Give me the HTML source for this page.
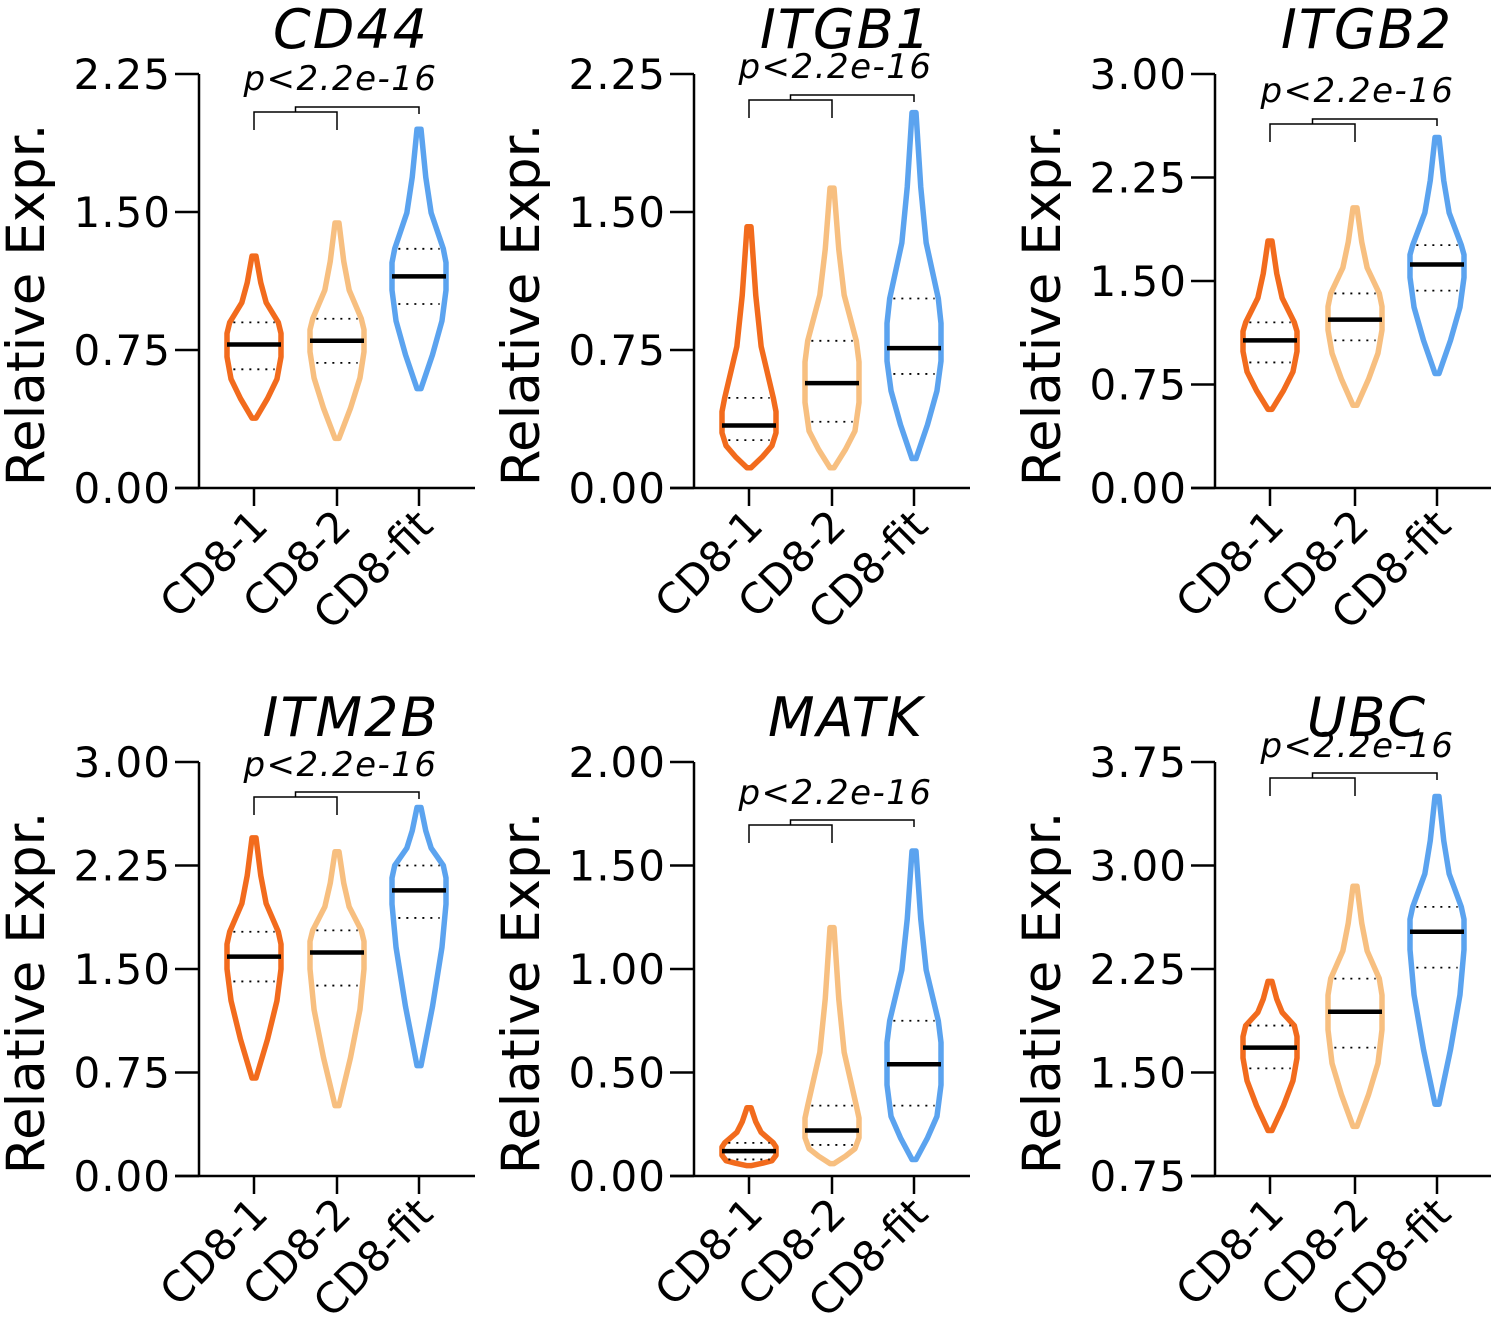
<!DOCTYPE html>
<html><head><meta charset="utf-8"><style>
html,body{margin:0;padding:0;background:#fff;}
svg{display:block;font-family:"DejaVu Sans","Liberation Sans",sans-serif;}
</style></head><body>
<svg id="chart" width="1502" height="1335" viewBox="0 0 1502 1335" xmlns="http://www.w3.org/2000/svg"></svg>
<script>
const genes = ["CD44","ITGB1","ITGB2","ITM2B","MATK","UBC"];
const categories = ["CD8-1","CD8-2","CD8-fit"];
const yMins = [0,0,0,0,0,0.75];
const yMaxs = [2.25,2.25,3.0,3.0,2.0,3.75];
const tickLabels = [
 ["0.00","0.75","1.50","2.25"],["0.00","0.75","1.50","2.25"],["0.00","0.75","1.50","2.25","3.00"],
 ["0.00","0.75","1.50","2.25","3.00"],["0.00","0.50","1.00","1.50","2.00"],["0.75","1.50","2.25","3.00","3.75"]];
// per gene, per category
const mins = [[0.38,0.27,0.54],[0.11,0.11,0.16],[0.57,0.60,0.83],[0.71,0.51,0.80],[0.05,0.06,0.08],[1.08,1.11,1.27]];
const maxs = [[1.26,1.44,1.95],[1.42,1.63,2.04],[1.79,2.03,2.54],[2.45,2.35,2.67],[0.33,1.20,1.57],[2.16,2.85,3.50]];
const medians = [[0.78,0.80,1.15],[0.34,0.57,0.76],[1.07,1.22,1.62],[1.59,1.62,2.07],[0.12,0.22,0.54],[1.68,1.94,2.52]];
const q1s = [[0.645,0.68,1.0],[0.26,0.36,0.62],[0.91,1.07,1.43],[1.41,1.38,1.87],[0.08,0.15,0.34],[1.53,1.68,2.26]];
const q3s = [[0.90,0.92,1.30],[0.49,0.80,1.03],[1.20,1.41,1.76],[1.77,1.78,2.25],[0.16,0.34,0.75],[1.84,2.18,2.70]];
const pLabel = "p<2.2e-16";

const colors = ["#f26b1d","#f7bf80","#5ba3ef"];
const axisX = [199,694,1215,199,694,1215];
const catX = [[254,337,419],[749,832,914],[1270,1355,1437],[254,337,419],[749,832,914],[1270,1355,1437]];
const topY = [74,74,74,762,762,762];
const botY = [488,488,488,1176,1176,1176];
const pY = [90,78,102,776,804,757];
const brY = [112,100,124,797,825,778];
const NS="http://www.w3.org/2000/svg";
const svg=document.getElementById('chart');
function mk(tag,attrs,parent){const e=document.createElementNS(NS,tag);for(const k in attrs)e.setAttribute(k,attrs[k]);(parent||svg).appendChild(e);return e;}

genes.forEach((g,gi)=>{
  const grp=mk('g',{});
  
  
  const y=v=>botY[gi]-(v-yMins[gi])/(yMaxs[gi]-yMins[gi])*(botY[gi]-topY[gi]);
  const ax=axisX[gi], xEnd=ax+276;
  const t=mk('text',{x:ax+152,y:topY[gi]-26,'font-size':54,'font-style':'italic','text-anchor':'middle',fill:'#000','letter-spacing':2},grp);
  t.textContent=g;
  
  
  const yl=mk('text',{x:0,y:0,'font-size':53,'text-anchor':'middle',fill:'#000',transform:`translate(${ax-155},${(topY[gi]+botY[gi])/2+24}) rotate(-90)`},grp);
  yl.textContent="Relative Expr.";
  
  
  const ya=mk('line',{x1:ax,y1:topY[gi],x2:ax,y2:botY[gi],stroke:'#000','stroke-width':2.5},grp);
  
  
  const xa=mk('line',{x1:ax-24,y1:botY[gi],x2:xEnd,y2:botY[gi],stroke:'#000','stroke-width':2.5},grp);
  
  
  tickLabels[gi].forEach(tl=>{
    const v=parseFloat(tl), yy=y(v);
    mk('line',{x1:ax-24,y1:yy,x2:ax,y2:yy,stroke:'#000','stroke-width':2.5},grp);
    const tt=mk('text',{x:ax-28,y:yy+15,'font-size':42,'text-anchor':'end',fill:'#000','letter-spacing':1},grp);
    tt.textContent=tl;
    
    
  });
  categories.forEach((c,ci)=>{
    const cx=catX[gi][ci];
    mk('line',{x1:cx,y1:botY[gi],x2:cx,y2:botY[gi]+18,stroke:'#000','stroke-width':2.5},grp);
    const xt=mk('text',{x:0,y:0,'font-size':42,'text-anchor':'end',fill:'#000',transform:`translate(${cx+16},${botY[gi]+40}) rotate(-45)`},grp);
    xt.textContent=c;
    
    
    const mn=mins[gi][ci],mx=maxs[gi][ci],md=medians[gi][ci],a=q1s[gi][ci],b=q3s[gi][ci];
    const w=27;
    const prof=[[mn,2],[mn+(a-mn)*0.4,0.5*w],[mn+(a-mn)*0.8,0.85*w],[(a+md)/2,w],[md,w],[(md+b)/2,w],[b,0.9*w],[b+(mx-b)*0.3,0.45*w],[b+(mx-b)*0.6,0.25*w],[mx,2]];
    let d='';
    prof.forEach((p,i)=>{d+=(i?'L':'M')+(cx+p[1])+','+y(p[0]);});
    for(let i=prof.length-1;i>=0;i--){d+='L'+(cx-prof[i][1])+','+y(prof[i][0]);}
    d+='Z';
    const vp=mk('path',{d:d,fill:'none',stroke:colors[ci],'stroke-width':5.5,'stroke-linejoin':'round'},grp);
    
    
    const qw=w*0.85;
    [a,b].forEach(q=>{
      const ql=mk('line',{x1:cx-qw*0.9,y1:y(q),x2:cx+qw*0.9,y2:y(q),stroke:'#000','stroke-width':1.8,'stroke-dasharray':'2,6'},grp);
      
      
    });
    const ml=mk('line',{x1:cx-w,y1:y(md),x2:cx+w,y2:y(md),stroke:'#000','stroke-width':4.5},grp);
    
    
  });
  const c1=catX[gi][0],c2=catX[gi][1],c3=catX[gi][2],by=brY[gi];
  const b1=mk('path',{d:`M${c1},${by+18}V${by}H${c2}V${by+18}`,fill:'none',stroke:'#000','stroke-width':1.5},grp);
  
  
  const mid=(c1+c2)/2;
  const b2=mk('path',{d:`M${mid},${by}V${by-5}H${c3}V${by+2}`,fill:'none',stroke:'#000','stroke-width':1.5},grp);
  
  
  const pt=mk('text',{x:(c1+c3)/2+4,y:pY[gi],'font-size':34,'font-style':'italic','text-anchor':'middle',fill:'#000','letter-spacing':1.5},grp);
  pt.textContent=pLabel;
  
  
});
</script>
</body></html>
